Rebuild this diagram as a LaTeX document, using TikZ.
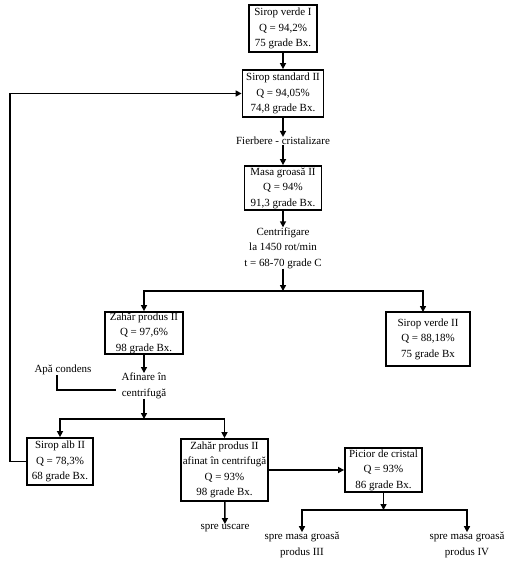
\documentclass[tikz,border=0pt]{standalone}
\usepackage{fontspec}
\setmainfont{Liberation Serif}
\usetikzlibrary{arrows.meta}
\begin{document}
\begin{tikzpicture}[x=1bp,y=-1bp,
  txt/.style={align=center, inner sep=0pt, font=\fontsize{11}{15.5}\selectfont},
  box/.style={txt, draw, line width=1.8bp},
  arr/.style={line width=1.5bp, -{Triangle[length=6bp,width=6bp]}},
  ln/.style={line width=1.5bp}]
\useasboundingbox[fill=white] (0,0) rectangle (510,575);
\node[box, minimum width=68bp, minimum height=47bp] (sv1) at (283,28.5) {Sirop verde I\\Q = 94,2\%\\75 grade Bx.};
\node[box, minimum width=81bp, minimum height=47bp] (ss2) at (283,93.5) {Sirop standard II\\Q = 94,05\%\\74,8 grade Bx.};
\node[txt] (fc) at (283,141) {Fierbere - cristalizare};
\node[box, minimum width=77bp, minimum height=44bp] (mg2) at (283,188) {Masa groasă II\\Q = 94\%\\91,3 grade Bx.};
\node[txt] (cf) at (283,248) {Centrifigare\\la 1450 rot/min\\t = 68-70 grade C};
\coordinate (j1) at (283,291);
\node[box, minimum width=78bp, minimum height=42bp] (zp2) at (144,333) {Zahăr produs II\\Q = 97,6\%\\98 grade Bx.};
\node[box, minimum width=84bp, minimum height=54bp] (sv2) at (428,339) {Sirop verde II\\Q = 88,18\%\\75 grade Bx};
\coordinate (sv2in) at (423,312);
\node[txt] (ac) at (63,370) {Apă condens};
\node[txt] (af) at (144,386) {Afinare în\\centrifugă};
\coordinate (acb) at (57,390);
\coordinate (ace) at (116,390);
\coordinate (j2) at (144,419);
\node[box, minimum width=66bp, minimum height=47bp] (sa2) at (60,461.5) {Sirop alb II\\Q = 78,3\%\\68 grade Bx.};
\node[box, minimum width=87bp, minimum height=62bp] (zpa) at (224.5,470) {Zahăr produs II\\afinat în centrifugă\\Q = 93\%\\98 grade Bx.};
\node[box, minimum width=77bp, minimum height=44bp] (pc) at (383.5,470) {Picior de cristal\\Q = 93\%\\86 grade Bx.};
\node[txt] (su) at (225,528) {spre uscare};
\coordinate (j3) at (383.5,510);
\node[txt] (s3) at (302,545) {spre masa groasă\\produs III};
\node[txt] (s4) at (467,545) {spre masa groasă\\produs IV};
\coordinate (fb) at (10,461.5);

\draw[arr] (sv1) -- (ss2);
\draw[arr] (ss2) -- (fc);
\draw[arr] (fc) -- (mg2);
\draw[arr] (mg2) -- (cf);
\draw[arr] (cf) -- (j1);
\draw[arr] (j1) -| (zp2);
\draw[arr] (j1) -| (sv2in);
\draw[arr] (zp2) -- (af);
\draw[ln] (ac.south -| acb) -- (acb) -- (ace);
\draw[arr] (af) -- (j2);
\draw[arr] (j2) -| (sa2);
\draw[arr] (j2) -| (zpa);
\draw[arr] (sa2.west) -- (fb) |- (ss2.west);
\draw[arr] (zpa) -- (su);
\draw[arr] (zpa) -- (pc);
\draw[arr] (pc) -- (j3);
\draw[arr] (j3) -| (s3);
\draw[arr] (j3) -| (s4);
\end{tikzpicture}
\end{document}
